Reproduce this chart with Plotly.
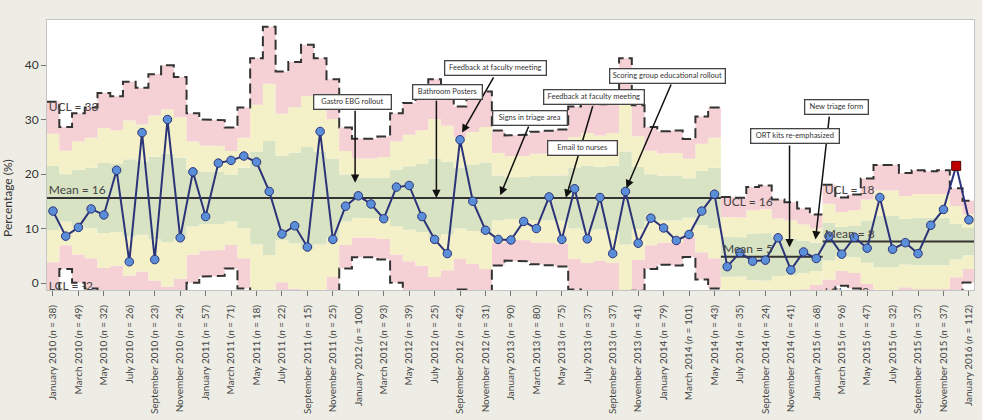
import numpy as np
import pandas as pd
import plotly.graph_objects as go

# ---------------- data ----------------
MONTHS = [d.strftime("%B %Y") for d in pd.date_range("2010-01-01", "2016-01-01", freq="MS")]

# monthly sample sizes (n)
N = [38, 70, 49, 43, 32, 34, 26, 29, 23, 20, 24, 49,
     57, 58, 71, 43, 18, 12, 22, 19, 15, 18, 25, 71,
     100, 100, 93, 49, 39, 34, 25, 30, 42, 36, 31, 77,
     90, 88, 80, 78, 75, 42, 37, 40, 37, 18, 41, 70,
     79, 77, 101, 53, 43, 34, 35, 25, 24, 37, 41, 52,
     68, 58, 96, 85, 47, 32, 32, 40, 37, 38, 37, 66, 112]

# monthly percentages
PCT = [13.2, 8.6, 10.2, 13.6, 12.5, 20.7, 3.9, 27.6, 4.3, 30.0, 8.3, 20.4,
       12.2, 22.0, 22.5, 23.3, 22.2, 16.8, 9.0, 10.5, 6.6, 27.8, 8.0, 14.1,
       16.0, 14.5, 11.8, 17.6, 17.9, 12.2, 8.0, 5.4, 26.3, 15.0, 9.7, 8.0,
       7.9, 11.3, 10.0, 15.8, 8.0, 17.3, 8.1, 15.7, 5.4, 16.8, 7.3, 11.9,
       10.1, 7.8, 8.9, 13.2, 16.3, 3.0, 5.6, 4.0, 4.2, 8.3, 2.4, 5.7,
       4.5, 8.6, 5.3, 8.4, 6.4, 15.7, 6.2, 7.4, 5.4, 10.6, 13.5, 21.5, 11.6]

# phases (first index, last index) and centre lines
PHASE_START = [0, 53, 61]
PHASE_END = [52, 60, 72]
PHASE_MEAN = [15.6, 4.8, 7.6]

NOTES = ["Gastro EBG rollout", "Bathroom Posters", "Feedback at faculty meeting",
         "Signs in triage area", "Feedback at faculty meeting", "Email to nurses",
         "Scoring group educational rollout", "ORT kits re-emphasized", "New triage form"]

# ---------------- styling / layout constants ----------------
PINK = "#f5d0d4"
YELLOW = "#f4f1c8"
GREEN = "#d8e3c3"
BG = "#eeede5"
L, R, T, B = 47, 8, 20, 130
W, H = 982, 420
PW, PH = W - L - R, H - T - B
XR = [-0.47, 72.4]
YR = [-1.28, 48.26]

fig = go.Figure()

n = np.array(N, dtype=float)
pct = np.array(PCT)
ucl_all = np.zeros(len(N))


def steps(idx, vals):
    xs, ys = [], []
    for i, v in zip(idx, vals):
        xs += [i - 0.5, i + 0.5]
        ys += [v, v]
    return xs, ys


label_pos = []
for k, (s, e, m) in enumerate(zip(PHASE_START, PHASE_END, PHASE_MEAN)):
    idx = np.arange(s, e + 1)
    p = m / 100.0
    sig = np.sqrt(p * (1 - p) / n[idx]) * 100
    levels = [m - 3 * sig, m - 2 * sig, m - sig, m + sig, m + 2 * sig, m + 3 * sig]
    fills = [None, PINK, YELLOW, GREEN, YELLOW, PINK]
    for lv, fc in zip(levels, fills):
        xs, ys = steps(idx, lv)
        fig.add_trace(go.Scatter(x=xs, y=ys, mode="lines", line=dict(width=0),
                                 fill=None if fc is None else "tonexty",
                                 fillcolor=fc, hoverinfo="skip", showlegend=False))
    ucl_all[idx] = m + 3 * sig
    # dashed control limits
    for lv in (levels[0], levels[-1]):
        xs, ys = steps(idx, lv)
        fig.add_trace(go.Scatter(x=xs, y=ys, mode="lines",
                                 line=dict(color="#333333", width=2, dash="10px,5px"),
                                 hoverinfo="skip", showlegend=False))
    label_pos.append((s, m, levels[-1][0], levels[0][0]))

# centre lines
for s, e, m in zip(PHASE_START, PHASE_END, PHASE_MEAN):
    fig.add_trace(go.Scatter(x=[s - 0.5, e + 0.5], y=[m, m], mode="lines",
                             line=dict(color="#333333", width=2),
                             hoverinfo="skip", showlegend=False))

# data line and markers
out = pct > ucl_all
x_idx = np.arange(len(PCT))
fig.add_trace(go.Scatter(x=x_idx, y=pct, mode="lines",
                         line=dict(color="#2b3479", width=2), showlegend=False))
fig.add_trace(go.Scatter(x=x_idx[~out], y=pct[~out], mode="markers",
                         marker=dict(size=8.5, color="#5b8ed8",
                                     line=dict(color="#2b3479", width=1)),
                         showlegend=False))
fig.add_trace(go.Scatter(x=x_idx[out], y=pct[out], mode="markers",
                         marker=dict(size=9, symbol="square", color="#c00000",
                                     line=dict(color="#5a0000", width=1)),
                         showlegend=False))

# limit / mean labels (clipped to plot area)
tx, ty, tt = [], [], []
for k, (s, m, ucl0, lcl0) in enumerate(label_pos):
    x0 = s - 0.33
    tx += [x0, x0]
    ty += [ucl0 - 1.2, m + 1.2]
    tt += [f"UCL = {ucl0:.0f}", f"Mean = {m:.0f}"]
    if k == 0:
        tx.append(x0); ty.append(-0.7); tt.append(f"LCL = {lcl0:.0f}")
    if k == 2:
        tx.append(x0); ty.append(-1.9); tt.append(f"LCL = {lcl0:.0f}")
fig.add_trace(go.Scatter(x=tx, y=ty, text=tt, mode="text", textposition="middle right",
                         textfont=dict(family="Lato, Open Sans, sans-serif", size=12, color="#444444"),
                         cliponaxis=True, hoverinfo="skip", showlegend=False))


# ---------------- annotation boxes & arrows ----------------
def px2paper(px, py):
    return (px - L) / PW, (H - B - py) / PH


# box centres/sizes in pixels (cx, cy, w, h)
BOXES = [(352.5, 101.8, 78, 15), (447.7, 91.8, 70, 15), (495.2, 68.0, 102, 15),
         (530.2, 117.5, 75, 15), (593.8, 97.2, 101, 15), (582.0, 147.5, 70, 15),
         (667.3, 75.5, 116, 15), (794.7, 136.2, 89, 15), (836.2, 107.2, 64, 15)]
# arrows: (tip month index, tip value, tail month index, tail value)
ARROWS = [(23.75, 18.4, 23.75, 31.9), (30.14, 15.6, 30.14, 33.7),
          (32.16, 27.6, 34.70, 38.0), (35.16, 16.1, 37.44, 29.0),
          (40.32, 15.65, 42.46, 32.7), (45.08, 17.4, 48.64, 36.7),
          (57.90, 6.55, 57.90, 25.5), (59.94, 8.0, 61.04, 30.8)]

annotations = []
for (tx_, ty_, ax_, ay_) in ARROWS:
    annotations.append(dict(x=tx_, y=ty_, xref="x", yref="y", ax=ax_, ay=ay_,
                            axref="x", ayref="y", text="", showarrow=True,
                            arrowhead=2, arrowsize=1.1, arrowwidth=1.5,
                            arrowcolor="#111111"))
for txt, (cx, cy, w, h) in zip(NOTES, BOXES):
    xp, yp = px2paper(cx, cy)
    annotations.append(dict(x=xp, y=yp, xref="paper", yref="paper", text=txt,
                            showarrow=False, xanchor="center", yanchor="middle",
                            width=w - 2, height=h - 2, borderpad=0, align="center",
                            bgcolor="white", bordercolor="#444444", borderwidth=1.3,
                            font=dict(family="Lato, Open Sans, sans-serif", size=7.5,
                                      color="#333333")))
# y-axis title
xp, yp = px2paper(7, 198)
annotations.append(dict(x=xp, y=yp, xref="paper", yref="paper", text="Percentage (%)",
                        textangle=-90, showarrow=False, xanchor="center", yanchor="middle",
                        font=dict(family="Lato, Open Sans, sans-serif", size=12, color="#333333")))

tickvals = list(range(0, len(MONTHS), 2))
ticktext = [f"{MONTHS[i]} (<i>n</i> = {N[i]})" for i in tickvals]

fig.update_layout(
    width=W, height=H,
    margin=dict(l=L, r=R, t=T, b=B, pad=0, autoexpand=False),
    paper_bgcolor=BG, plot_bgcolor="white",
    showlegend=False,
    annotations=annotations,
    xaxis=dict(range=XR, tickmode="array", tickvals=tickvals, ticktext=ticktext,
               tickangle=-90, ticks="outside", ticklen=5, tickcolor="#777777",
               ticklabelstandoff=5, automargin=False,
               tickfont=dict(family="Lato, Open Sans, sans-serif", size=10, color="#444444"),
               showgrid=False, zeroline=False, showline=True, linecolor="#c4c4c4",
               mirror=True, fixedrange=True),
    yaxis=dict(range=YR, tickvals=[0, 10, 20, 30, 40], ticks="outside", ticklen=5,
               tickcolor="#777777", automargin=False,
               tickfont=dict(family="Lato, Open Sans, sans-serif", size=12, color="#333333"),
               showgrid=False, zeroline=False, showline=True, linecolor="#c4c4c4",
               mirror=True, fixedrange=True),
)

fig.write_html("out.html")
